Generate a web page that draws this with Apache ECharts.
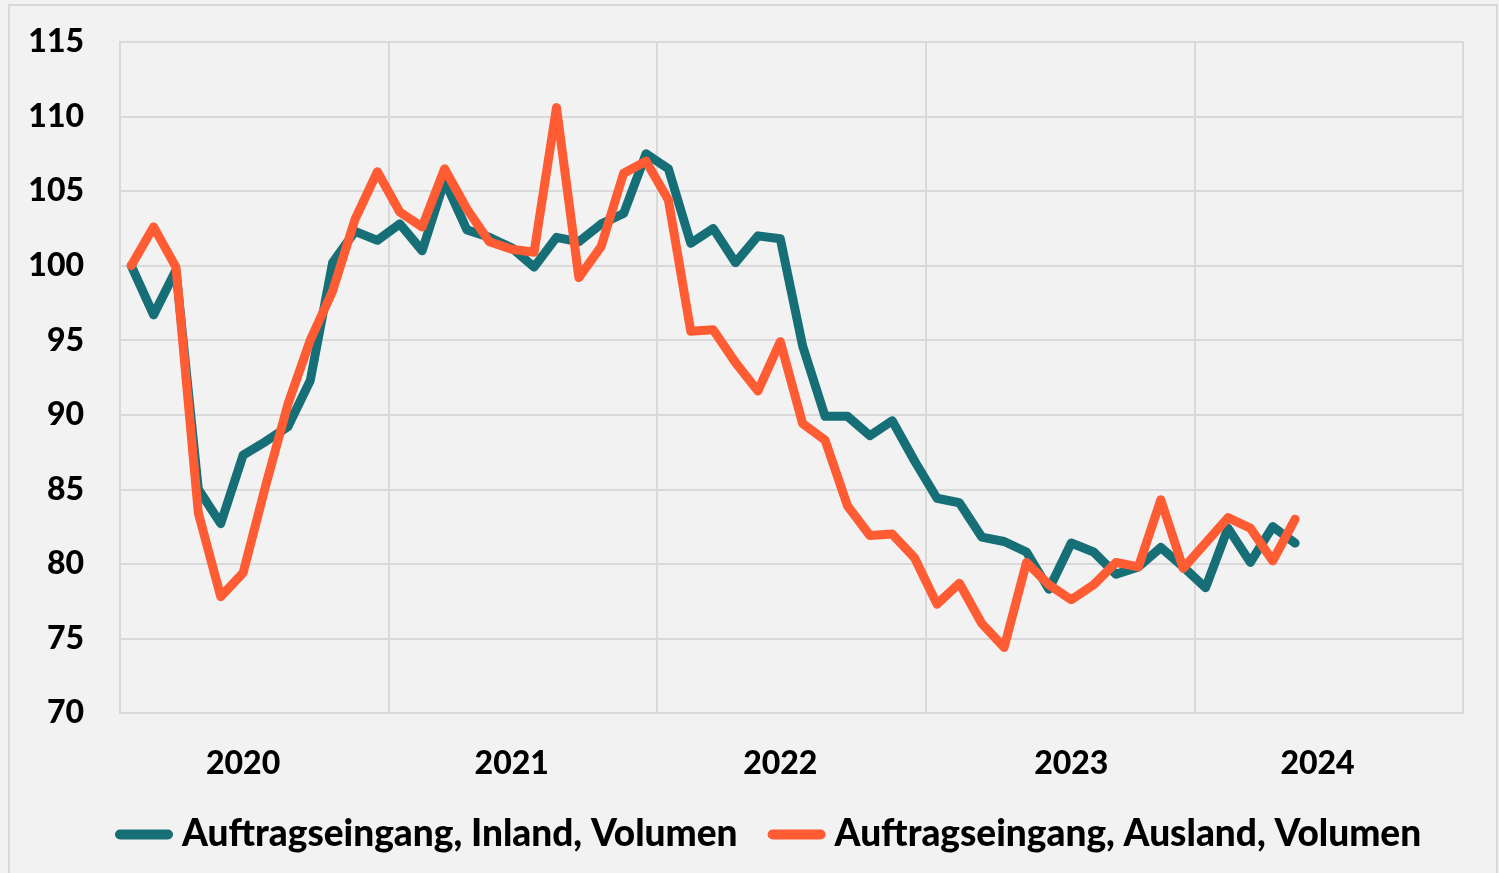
<!DOCTYPE html>
<html>
<head>
<meta charset="utf-8">
<script src="https://cdn.jsdelivr.net/npm/echarts@6/dist/echarts.min.js"></script>
<style>
  html, body { margin: 0; padding: 0; background: #f2f2f2; }
  #main { width: 1499px; height: 873px; }
</style>
</head>
<body>
<div id="main"></div>
<script>
// Monatswerte ab Januar 2020 (Index 2020-01 = 100)
const inland = [100, 96.7, 99.7, 85.0, 82.7, 87.3, 88.2, 89.2, 92.3, 100.2, 102.3, 101.7,
  102.8, 101.0, 105.7, 102.4, 101.9, 101.2, 99.9, 101.9, 101.6, 102.8, 103.5, 107.5,
  106.5, 101.5, 102.5, 100.2, 102.0, 101.8, 94.6, 89.9, 89.9, 88.6, 89.6, 86.9,
  84.4, 84.1, 81.8, 81.5, 80.8, 78.3, 81.4, 80.8, 79.3, 79.8, 81.1, 79.8,
  78.4, 82.4, 80.1, 82.5, 81.4];
const ausland = [100, 102.6, 99.9, 83.4, 77.8, 79.4, 85.2, 90.7, 95.0, 98.3, 103.1, 106.3,
  103.6, 102.6, 106.5, 103.8, 101.6, 101.1, 100.9, 110.6, 99.2, 101.3, 106.2, 107.0,
  104.4, 95.6, 95.7, 93.5, 91.6, 94.9, 89.4, 88.3, 83.9, 81.9, 82.0, 80.4,
  77.3, 78.7, 76.0, 74.4, 80.1, 78.6, 77.6, 78.6, 80.1, 79.8, 84.3, 79.7,
  81.4, 83.1, 82.4, 80.2, 83.0];
const seriesNames = ["Auftragseingang, Inland, Volumen", "Auftragseingang, Ausland, Volumen"];
const years = ["2020", "2021", "2022", "2023", "2024"];
// Kategorie, unter der die Jahresbeschriftung steht
const yearLabelIndex = [5, 17, 29, 42, 53];

// 60 Monate 2020-01 .. 2024-12
const months = [];
years.forEach(y => {
  for (let m = 1; m <= 12; m++) months.push(y + "-" + String(m).padStart(2, "0"));
});

const font = "Lato, 'Open Sans', sans-serif";
const myChart = echarts.init(document.getElementById("main"));
const option = {
  backgroundColor: "#f2f2f2",
  animation: false,
  color: ["#166f77", "#ff5c33"],
  graphic: [
    {
      type: "rect",
      shape: { x: 9, y: 5, width: 1488, height: 880 },
      style: { fill: "none", stroke: "#d9d9d9", lineWidth: 2 },
      silent: true
    }
  ],
  grid: {
    left: 120,
    right: 36,
    top: 42,
    bottom: 160,
    show: true,
    borderColor: "#d9d9d9",
    borderWidth: 2,
    backgroundColor: "transparent"
  },
  legend: {
    data: seriesNames,
    bottom: 15,
    left: 110,
    itemWidth: 58,
    itemHeight: 10,
    itemGap: 30,
    icon: "path://M5 0h48a5 5 0 0 1 0 10h-48a5 5 0 0 1 0 -10z",
    textStyle: {
      color: "#000",
      fontSize: 37,
      fontWeight: 900,
      fontFamily: font,
      padding: [0, 0, 0, 4]
    }
  },
  xAxis: {
    type: "category",
    data: months,
    boundaryGap: true,
    axisLine: { show: false },
    axisTick: { show: false },
    axisLabel: {
      interval: (index) => yearLabelIndex.includes(index),
      formatter: (value) => value.slice(0, 4),
      color: "#000",
      fontSize: 32,
      fontWeight: 900,
      fontFamily: font,
      margin: 35
    },
    splitLine: {
      show: true,
      interval: (index) => index % 12 === 0,
      lineStyle: { color: "#d9d9d9", width: 2 }
    }
  },
  yAxis: {
    type: "value",
    min: 70,
    max: 115,
    interval: 5,
    axisLine: { show: false },
    axisTick: { show: false },
    axisLabel: {
      color: "#000",
      fontSize: 32,
      fontWeight: 900,
      fontFamily: font,
      margin: 36
    },
    splitLine: {
      show: true,
      lineStyle: { color: "#d9d9d9", width: 2 }
    }
  },
  series: [
    {
      name: seriesNames[0],
      type: "line",
      data: inland,
      showSymbol: false,
      lineStyle: { width: 9, cap: "round", join: "round" }
    },
    {
      name: seriesNames[1],
      type: "line",
      data: ausland,
      showSymbol: false,
      lineStyle: { width: 9, cap: "round", join: "round" }
    }
  ]
};
myChart.setOption(option);
</script>
</body>
</html>
